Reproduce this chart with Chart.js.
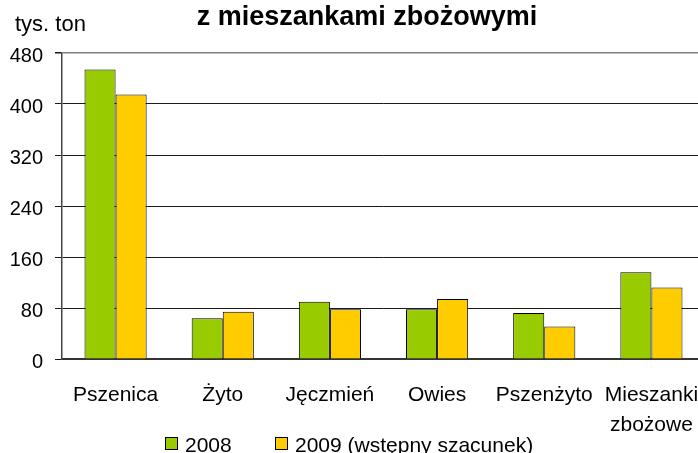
<!DOCTYPE html>
<html>
<head>
<meta charset="utf-8">
<script src="https://cdn.jsdelivr.net/npm/chart.js@4/dist/chart.umd.min.js"></script>
<style>
  html, body { margin: 0; padding: 0; background: #fff; overflow: hidden; }
  #crops-chart { display: block; }
</style>
</head>
<body>
<canvas id="crops-chart" width="710" height="453"></canvas>
<script>
// chart data
const categories = ['Pszenica', 'Żyto', 'Jęczmień', 'Owies', 'Pszenżyto', ['Mieszanki', 'zbożowe']];
const values2008 = [454, 64, 90, 78, 72, 136];
const values2009 = [415, 74, 78, 94, 51, 112];
const seriesLabels = ['2008', '2009 (wstępny szacunek)'];
const yTicks = [0, 80, 160, 240, 320, 400, 480];
const titleText = 'z mieszankami zbożowymi';
const unitText = 'tys. ton';

const fontFamily = '"Liberation Sans", Arial, sans-serif';

// title, unit label and legend drawn by hand
const textPlugin = {
  id: 'texts',
  afterDraw(chart) {
    const c = chart.ctx;
    c.save();
    c.fillStyle = '#000';
    c.textBaseline = 'alphabetic';

    c.font = 'bold 27px ' + fontFamily;
    c.textAlign = 'center';
    c.fillText(titleText, 367, 25);

    c.font = '22px ' + fontFamily;
    c.textAlign = 'left';
    c.fillText(unitText, 15, 31);

    const legendX = [165, 275];
    c.font = '21px ' + fontFamily;
    chart.data.datasets.forEach((ds, i) => {
      const x = legendX[i];
      c.fillStyle = ds.backgroundColor;
      c.fillRect(x + 0.5, 437.5, 12, 12);
      c.strokeStyle = '#000';
      c.lineWidth = 1;
      c.strokeRect(x + 0.5, 437.5, 12, 12);
      c.fillStyle = '#000';
      c.fillText(ds.label, x + 20, 452);
    });
    c.restore();
  }
};

const ctx = document.getElementById('crops-chart').getContext('2d');
const chart = new Chart(ctx, {
  type: 'bar',
  data: {
    labels: categories,
    datasets: [
      {
        label: seriesLabels[0],
        data: values2008,
        backgroundColor: '#99cc00',
        borderColor: '#000',
        borderWidth: 1
      },
      {
        label: seriesLabels[1],
        data: values2009,
        backgroundColor: '#ffcc00',
        borderColor: '#000',
        borderWidth: 1
      }
    ]
  },
  options: {
    responsive: false,
    animation: false,
    devicePixelRatio: 1,
    layout: { padding: { top: 53, right: 5, left: 0, bottom: 0 } },
    datasets: {
      bar: { barPercentage: 1, categoryPercentage: 0.58 }
    },
    plugins: {
      legend: { display: false },
      title: { display: false },
      tooltip: { enabled: false }
    },
    scales: {
      x: {
        grid: { display: false, drawTicks: false },
        border: { color: '#333', width: 2 },
        ticks: {
          color: '#000',
          font: { family: fontFamily, size: 21, lineHeight: 1.45 },
          padding: 21,
          maxRotation: 0,
          autoSkip: false
        },
        afterFit: s => {
          s.height = 94;
          s.paddingLeft = 0;   // labels may run past the plot edge
          s.paddingRight = 0;
        }
      },
      y: {
        min: 0,
        max: 480,
        afterBuildTicks: s => { s.ticks = yTicks.map(v => ({ value: v })); },
        grid: {
          color: c => (c.tick && c.tick.value === 480 ? '#808080' : '#1a1a1a'),
          lineWidth: c => (c.tick && c.tick.value === 480 ? 1.5 : 1),
          tickLength: 7,
          tickColor: '#1a1a1a'
        },
        border: { color: '#444', width: 1.5 },
        ticks: {
          color: '#000',
          font: { family: fontFamily, size: 20 },
          padding: 12,
          labelOffset: 3
        },
        afterFit: s => { s.width = 62; }
      }
    }
  },
  plugins: [textPlugin]
});
</script>
</body>
</html>
